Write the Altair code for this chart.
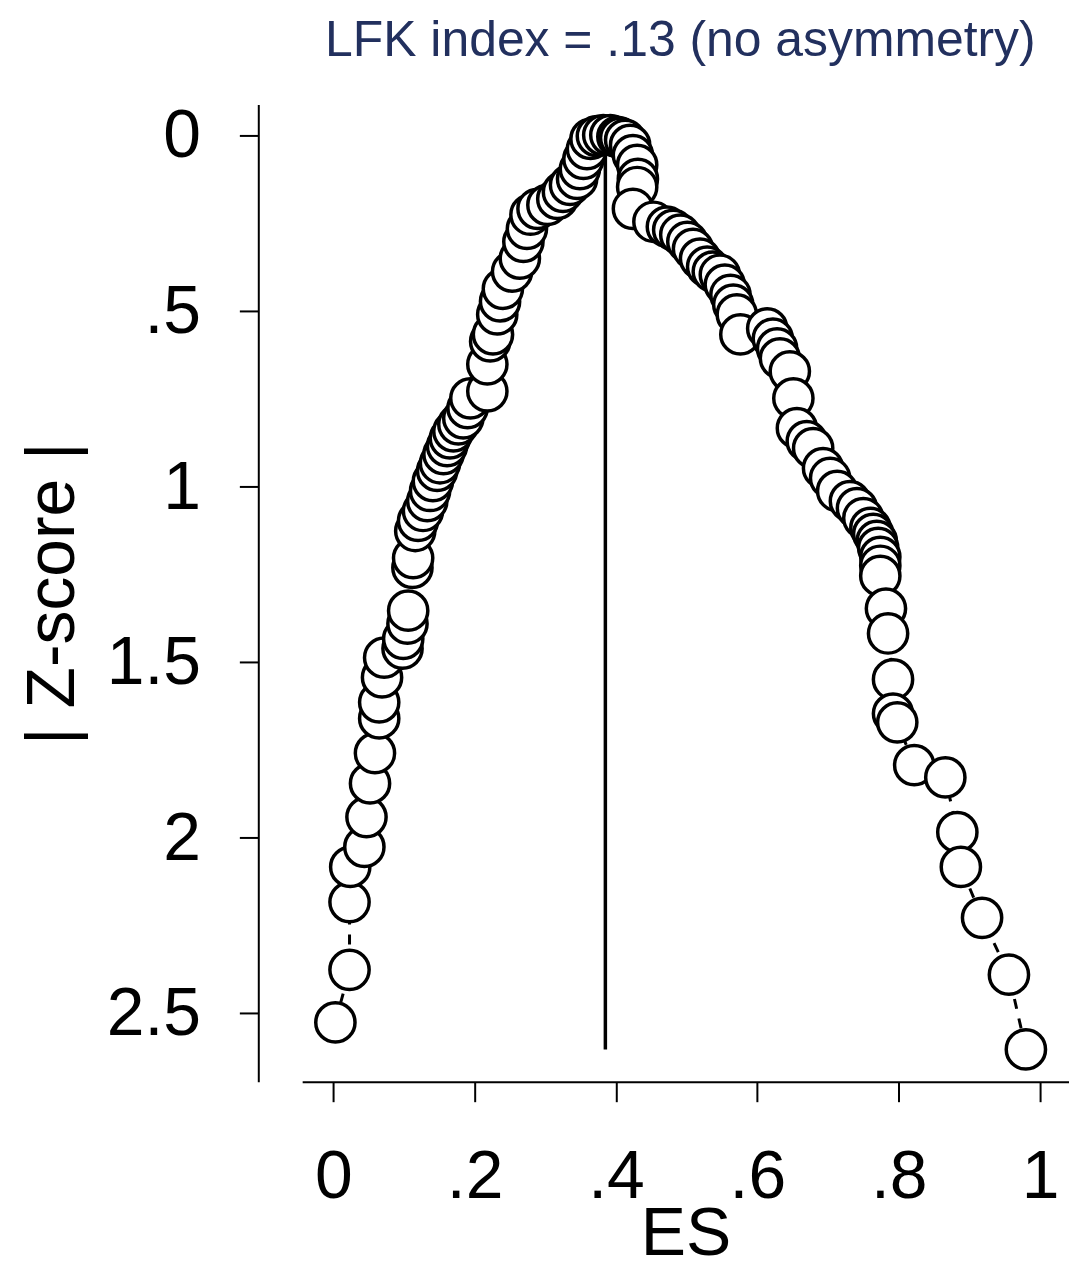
import altair as alt
import pandas as pd

# Left branch of the Doi plot (from the bottom up to the peak)
es_left = [0.003, 0.023, 0.023, 0.024, 0.044, 0.047, 0.052, 0.059, 0.065, 0.065,
           0.069, 0.072, 0.098, 0.099, 0.105, 0.106, 0.112, 0.113, 0.116, 0.120,
           0.127, 0.133, 0.137, 0.141, 0.147, 0.151, 0.156, 0.161, 0.165, 0.170,
           0.177, 0.184, 0.190, 0.194, 0.218, 0.218, 0.222, 0.226, 0.232, 0.236,
           0.240, 0.253, 0.264, 0.269, 0.274, 0.279, 0.289, 0.303, 0.317, 0.325,
           0.335, 0.345, 0.349, 0.354, 0.359, 0.364, 0.373, 0.382]
z_left = [2.528, 2.378, 2.185, 2.085, 2.028, 1.943, 1.847, 1.761, 1.662, 1.616,
          1.545, 1.489, 1.463, 1.435, 1.392, 1.355, 1.233, 1.205, 1.128, 1.099,
          1.071, 1.043, 1.014, 0.986, 0.957, 0.935, 0.909, 0.886, 0.864, 0.844,
          0.824, 0.807, 0.778, 0.750, 0.730, 0.653, 0.588, 0.568, 0.511, 0.474,
          0.438, 0.389, 0.352, 0.304, 0.267, 0.227, 0.210, 0.199, 0.182, 0.162,
          0.142, 0.125, 0.097, 0.068, 0.040, 0.011, 0.003, 0.0]

# Right branch (from the peak down)
es_right = [0.392, 0.402, 0.406, 0.413, 0.420, 0.424, 0.430, 0.431, 0.430, 0.424,
            0.453, 0.472, 0.481, 0.491, 0.501, 0.509, 0.519, 0.529, 0.537, 0.547,
            0.554, 0.562, 0.566, 0.571, 0.576, 0.614, 0.622, 0.628, 0.632, 0.646,
            0.651, 0.656, 0.670, 0.679, 0.693, 0.703, 0.713, 0.731, 0.741, 0.750,
            0.760, 0.764, 0.769, 0.771, 0.774, 0.774, 0.774, 0.782, 0.785, 0.792,
            0.792, 0.798, 0.822, 0.866, 0.883, 0.888, 0.918, 0.956, 0.980]
z_right = [0.0, 0.005, 0.008, 0.014, 0.028, 0.057, 0.085, 0.125, 0.148, 0.210,
           0.247, 0.261, 0.270, 0.284, 0.304, 0.324, 0.352, 0.375, 0.389, 0.398,
           0.426, 0.455, 0.483, 0.511, 0.568, 0.551, 0.580, 0.608, 0.636, 0.673,
           0.750, 0.835, 0.872, 0.892, 0.949, 0.977, 1.014, 1.043, 1.063, 1.091,
           1.119, 1.136, 1.156, 1.176, 1.202, 1.227, 1.256, 1.349, 1.420, 1.551,
           1.648, 1.673, 1.795, 1.830, 1.986, 2.085, 2.230, 2.392, 2.605]

# Reference (vertical) line
ref_es = [0.385]
ref_z_top = [0.0]
ref_z_bottom = [2.605]

x_ticks = [0, 0.2, 0.4, 0.6, 0.8, 1]
y_ticks = [0, 0.5, 1, 1.5, 2, 2.5]
title_text = "LFK index = .13 (no asymmetry)"
x_title = "ES"
y_title = "| Z-score |"

es_all = es_left + es_right
z_all = z_left + z_right
df = pd.DataFrame({"es": es_all, "z": z_all, "idx": list(range(len(es_all)))})
ref_df = pd.DataFrame({"es": ref_es, "z": ref_z_top, "z_end": ref_z_bottom})

FONT = "Liberation Sans"
W, H = 769, 980
label_expr = "replace(format(datum.value, '.1~f'), '0.', '.')"

x_enc = alt.X(
    "es:Q",
    scale=alt.Scale(domain=[-0.044, 1.041], nice=False, zero=False),
    axis=alt.Axis(
        values=x_ticks, labelExpr=label_expr, title=x_title,
        grid=False, domainColor="black", domainWidth=2,
        tickColor="black", tickWidth=2, tickSize=20,
        labelFont=FONT, labelFontSize=68, labelColor="black",
        labelPadding=42, labelFlush=False, labelOverlap=False,
        titleFont=FONT, titleFontSize=68, titleFontWeight="normal",
        titleColor="black", titleBaseline="alphabetic", titleY=173,
    ),
)
y_enc = alt.Y(
    "z:Q",
    scale=alt.Scale(domain=[-0.087, 2.697], nice=False, zero=False, reverse=True),
    axis=alt.Axis(
        values=y_ticks, labelExpr=label_expr, title=y_title, offset=44,
        grid=False, domainColor="black", domainWidth=2,
        tickColor="black", tickWidth=2, tickSize=19,
        labelFont=FONT, labelFontSize=68, labelColor="black",
        labelPadding=39, labelBaseline="middle", labelOffset=2,
        labelFlush=False, labelOverlap=False,
        titleFont=FONT, titleFontSize=68, titleFontWeight="normal",
        titleColor="black", titleAngle=270, titleBaseline="alphabetic",
        titleAlign="center", titleX=-185, titleY=H / 2,
    ),
)

rule = alt.Chart(ref_df).mark_rule(color="black", strokeWidth=3.5).encode(
    x=x_enc, y=y_enc, y2="z_end:Q"
)
line = alt.Chart(df).mark_line(
    color="black", strokeWidth=3, strokeDash=[10, 10]
).encode(x=x_enc, y=y_enc, order="idx:Q")
points = alt.Chart(df).mark_point(
    shape="circle", filled=True, fill="white", stroke="black",
    strokeWidth=3.5, size=1550, opacity=1, fillOpacity=1, strokeOpacity=1
).encode(x=x_enc, y=y_enc)

chart = alt.layer(rule, line, points).properties(
    width=W, height=H,
    title=alt.TitleParams(
        text=title_text, anchor="start", frame="group", dx=23,
        fontSize=50, font=FONT, fontWeight="normal", color="#22305e",
        baseline="alphabetic", offset=-3,
    ),
    background="white",
    autosize=alt.AutoSizeParams(type="none"),
    padding={"left": 295, "top": 95, "right": 0, "bottom": 188},
).configure_view(stroke=None, strokeWidth=0)

chart.save("out.html", embed_options={"renderer": "svg", "actions": False})
